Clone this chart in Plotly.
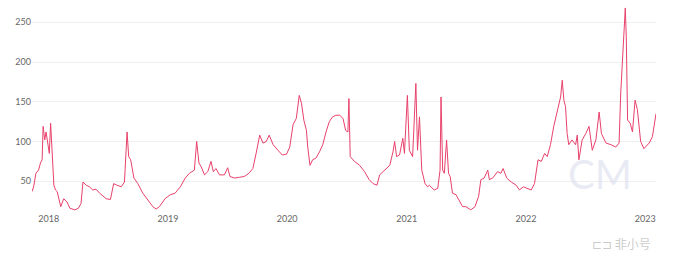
import plotly.graph_objects as go

dates = [
    "2017-11-11", "2017-11-16", "2017-11-23", "2017-12-01", "2017-12-07", "2017-12-12",
    "2017-12-15", "2017-12-20", "2017-12-24", "2017-12-30", "2018-01-03", "2018-01-07",
    "2018-01-12", "2018-01-17", "2018-01-22", "2018-01-27", "2018-02-07", "2018-02-16",
    "2018-02-26", "2018-03-07", "2018-03-22", "2018-04-02", "2018-04-10", "2018-04-16",
    "2018-04-26", "2018-05-06", "2018-05-16", "2018-05-26", "2018-06-06", "2018-06-16",
    "2018-06-26", "2018-07-09", "2018-07-19", "2018-07-29", "2018-08-11", "2018-08-21",
    "2018-08-29", "2018-09-03", "2018-09-09", "2018-09-19", "2018-10-01", "2018-10-16",
    "2018-11-01", "2018-11-16", "2018-11-26", "2018-12-06", "2018-12-23", "2019-01-08",
    "2019-01-23", "2019-02-08", "2019-02-23", "2019-03-08", "2019-03-23", "2019-03-30",
    "2019-04-06", "2019-04-13", "2019-04-23", "2019-05-03", "2019-05-13", "2019-05-20",
    "2019-05-28", "2019-06-08", "2019-06-23", "2019-07-03", "2019-07-10", "2019-07-24",
    "2019-08-08", "2019-08-23", "2019-09-06", "2019-09-18", "2019-09-28", "2019-10-09",
    "2019-10-19", "2019-10-29", "2019-11-07", "2019-11-19", "2019-12-04", "2019-12-17",
    "2019-12-30", "2020-01-09", "2020-01-19", "2020-01-29", "2020-02-07", "2020-02-14",
    "2020-02-21", "2020-02-29", "2020-03-04", "2020-03-11", "2020-03-19", "2020-03-29",
    "2020-04-09", "2020-04-19", "2020-04-29", "2020-05-09", "2020-05-19", "2020-05-29",
    "2020-06-10", "2020-06-20", "2020-06-28", "2020-07-05", "2020-07-08", "2020-07-12",
    "2020-07-25", "2020-08-10", "2020-08-25", "2020-09-08", "2020-09-20", "2020-10-02",
    "2020-10-10", "2020-10-25", "2020-11-10", "2020-11-20", "2020-11-25", "2020-12-01",
    "2020-12-10", "2020-12-20", "2020-12-25", "2021-01-03", "2021-01-09", "2021-01-19",
    "2021-01-29", "2021-02-03", "2021-02-09", "2021-02-16", "2021-02-26", "2021-03-06",
    "2021-03-11", "2021-03-26", "2021-04-06", "2021-04-13", "2021-04-16", "2021-04-21",
    "2021-04-26", "2021-05-03", "2021-05-09", "2021-05-14", "2021-05-21", "2021-06-01",
    "2021-06-11", "2021-06-21", "2021-07-01", "2021-07-16", "2021-07-29", "2021-08-09",
    "2021-08-16", "2021-08-26", "2021-09-06", "2021-09-11", "2021-09-21", "2021-10-06",
    "2021-10-16", "2021-10-23", "2021-11-03", "2021-11-17", "2021-12-02", "2021-12-12",
    "2021-12-24", "2022-01-07", "2022-01-17", "2022-01-27", "2022-02-07", "2022-02-17",
    "2022-02-27", "2022-03-07", "2022-03-12", "2022-03-17", "2022-03-27", "2022-04-07",
    "2022-04-17", "2022-04-22", "2022-04-27", "2022-05-02", "2022-05-07", "2022-05-12",
    "2022-05-22", "2022-06-02", "2022-06-07", "2022-06-12", "2022-06-22", "2022-07-03",
    "2022-07-13", "2022-07-23", "2022-08-03", "2022-08-13", "2022-08-20", "2022-09-03",
    "2022-09-18", "2022-10-03", "2022-10-13", "2022-10-18", "2022-10-26", "2022-11-01",
    "2022-11-04", "2022-11-08", "2022-11-16", "2022-11-23", "2022-12-01", "2022-12-08",
    "2022-12-18", "2022-12-28", "2023-01-13", "2023-01-23", "2023-02-03",
]

values = [
    37, 43, 60, 64, 73, 77,
    119, 102, 112, 93, 85, 123,
    77, 45, 39, 37, 18, 28,
    24, 16, 14, 16, 22, 49,
    45, 43, 39, 40, 35, 31,
    28, 27, 47, 45, 43, 49,
    112, 81, 77, 54, 47, 35,
    26, 18, 15, 18, 28, 33,
    35, 43, 54, 60, 64, 100,
    73, 68, 58, 62, 75, 62,
    66, 58, 58, 67, 56, 54,
    55, 56, 60, 66, 85, 108,
    98, 100, 108, 96, 89, 83,
    84, 93, 121, 129, 158, 148,
    127, 114, 93, 70, 77, 79,
    87, 96, 112, 125, 131, 133,
    133, 129, 114, 112, 154, 81,
    75, 70, 62, 52, 47, 45,
    58, 64, 70, 87, 100, 81,
    83, 104, 85, 158, 89, 81,
    173, 89, 131, 64, 47, 43,
    45, 39, 41, 64, 156, 64,
    60, 102, 60, 56, 35, 33,
    26, 18, 18, 14, 18, 31,
    52, 54, 64, 52, 54, 62,
    60, 66, 54, 49, 45, 39,
    43, 41, 39, 47, 77, 75,
    85, 81, 89, 96, 119, 140,
    156, 177, 152, 144, 110, 96,
    102, 96, 108, 77, 102, 110,
    119, 89, 102, 137, 110, 98,
    96, 93, 98, 161, 228, 268,
    232, 127, 123, 112, 152, 140,
    100, 91, 98, 106, 135,
]

y_ticks = [50, 100, 150, 200, 250]

fig = go.Figure()
fig.add_trace(go.Scatter(
    x=dates, y=values, mode="lines",
    line=dict(color="#e8416b", width=1),
    hoverinfo="skip", showlegend=False,
))

fig.update_layout(
    width=675, height=260,
    margin=dict(l=32, r=19, t=2, b=48),
    paper_bgcolor="white", plot_bgcolor="white",
    font=dict(family="Lato, sans-serif", size=9, color="#666666"),
    xaxis=dict(
        type="date", range=["2017-11-11", "2023-02-03"],
        dtick="M12", tick0="2018-01-01", tickformat="%Y",
        showgrid=False, zeroline=False, showline=False, ticks="",
        tickfont=dict(size=9, color="#666666"),
    ),
    yaxis=dict(
        range=[11.3, 275.5], tickvals=y_ticks,
        showgrid=True, gridcolor="#efefef", gridwidth=1,
        zeroline=False, showline=False, ticks="",
        tickfont=dict(size=9, color="#666666"),
    ),
    annotations=[
        dict(text="CM", x=0.91, y=0.18, xref="paper", yref="paper",
             xanchor="center", yanchor="middle", showarrow=False,
             font=dict(family="Lato, sans-serif", size=40, color="rgba(215,218,235,0.55)")),
        dict(text="⊏⊐ 非小号", x=0.995, y=-0.1, xref="paper", yref="paper",
             xanchor="right", yanchor="top", showarrow=False,
             font=dict(family="Noto Sans CJK SC", size=12, color="rgba(190,190,190,0.8)")),
    ],
)

fig.write_html("out.html")
